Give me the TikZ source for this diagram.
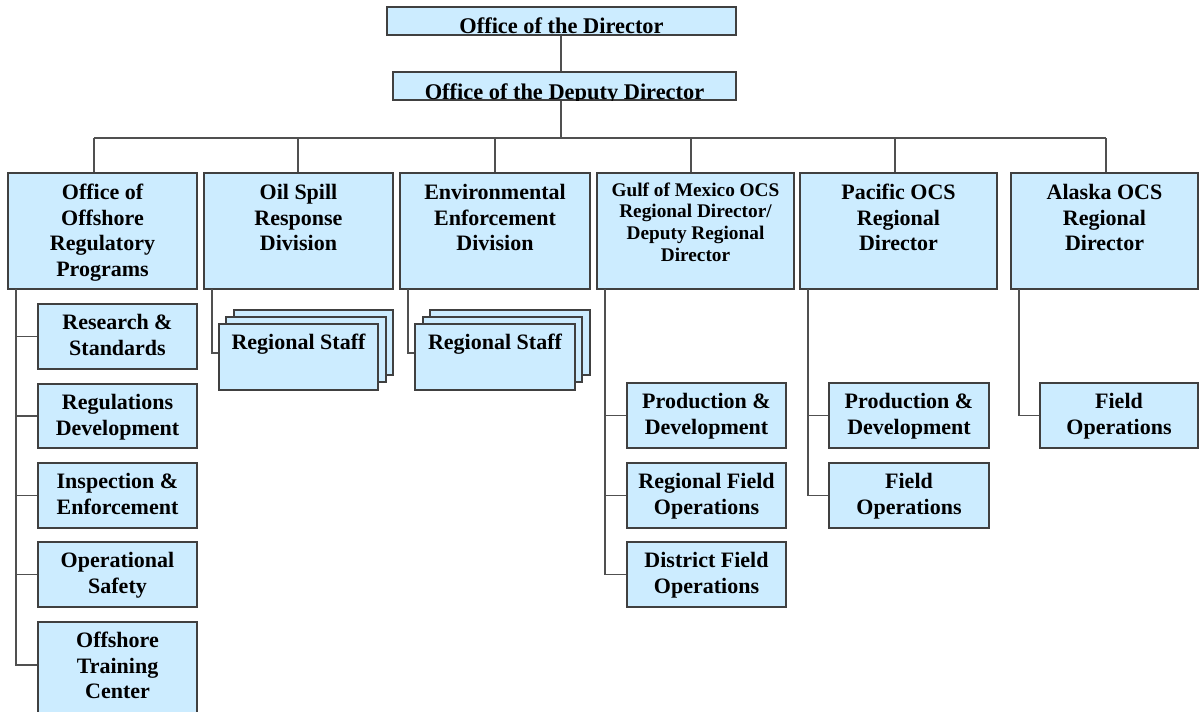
\documentclass[tikz,border=0pt]{standalone}
\usepackage{fontspec}
\setmainfont{Liberation Serif}
\usetikzlibrary{fit}
\definecolor{boxfill}{RGB}{204,236,255}
\definecolor{boxline}{RGB}{64,64,64}
\definecolor{conn}{RGB}{80,80,80}
\tikzset{
  box/.style={draw=boxline, line width=1.5pt, fill=boxfill, inner sep=0pt, rectangle},
  txt/.style={anchor=north, align=center, inner sep=0pt, text=black,
    font=\fontsize{22}{25.5}\selectfont\bfseries},
  txtsmall/.style={txt, font=\fontsize{19.3}{21.8}\selectfont\bfseries},
  link/.style={draw=conn, line width=1.9pt}
}
\begin{document}
\begin{tikzpicture}[x=1pt,y=-1pt]
\useasboundingbox (0,0) rectangle (1200,712);

% top
\node[box, fit={(387,7) (736,35)}] (dir) {};
\node[txt, font=\fontsize{22.4}{25}\selectfont\bfseries, yshift=-11pt] (dirt) at (dir.north) {Office of the Director};
\node[box, fit={(393,72) (736,100)}] (dep) {};
\begin{scope}
\clip (393,72) rectangle (736,100);
\node[txt, font=\fontsize{22.4}{25}\selectfont\bfseries, yshift=-12pt] (dept) at (dep.north) {Office of the Deputy Director};
\end{scope}

% bus
\coordinate (t1) at (94,138);
\coordinate (t2) at (298,138);
\coordinate (t3) at (495,138);
\coordinate (t4) at (691,138);
\coordinate (t5) at (895,138);
\coordinate (t6) at (1106,138);
\coordinate (tm) at (561,138);

% main row
\node[box, fit={(8,173) (197,289)}] (b1) {};
\node[box, fit={(204,173) (393,289)}] (b2) {};
\node[box, fit={(400,173) (590,289)}] (b3) {};
\node[box, fit={(597,173) (794,289)}] (b4) {};
\node[box, fit={(800,173) (997,289)}] (b5) {};
\node[box, fit={(1011,173) (1198,289)}] (b6) {};

\node[txt, yshift=-12pt] (b1t) at (b1.north) {Office of\\Offshore\\Regulatory\\Programs};
\node[txt, yshift=-12pt] (b2t) at (b2.north) {Oil Spill\\Response\\Division};
\node[txt, yshift=-12pt] (b3t) at (b3.north) {Environmental\\Enforcement\\Division};
\node[txtsmall, yshift=-10pt] (b4t) at (b4.north) {Gulf of Mexico OCS\\Regional Director/\\Deputy Regional\\Director};
\node[txt, yshift=-12pt] (b5t) at (b5.north) {Pacific OCS\\Regional\\Director};
\node[txt, yshift=-12pt] (b6t) at (b6.north) {Alaska OCS\\Regional\\Director};

\draw[link] (tm |- dir.south) -- (tm |- dep.north);
\draw[link] (tm |- dep.south) -- (tm);
\draw[link] (t1) -- (t6);
\draw[link] (t1) -- (t1 |- b1.north);
\draw[link] (t2) -- (t2 |- b2.north);
\draw[link] (t3) -- (t3 |- b3.north);
\draw[link] (t4) -- (t4 |- b4.north);
\draw[link] (t5) -- (t5 |- b5.north);
\draw[link] (t6) -- (t6 |- b6.north);

% column 1 children
\node[box, fit={(38,304) (197,369)}] (c11) {};
\node[box, fit={(38,384) (197,448)}] (c12) {};
\node[box, fit={(38,463) (197,528)}] (c13) {};
\node[box, fit={(38,542) (197,607)}] (c14) {};
\node[box, fit={(38,622) (197,714)}] (c15) {};
\node[txt, yshift=-11pt] at (c11.north) {Research \&\\Standards};
\node[txt, yshift=-11pt] at (c12.north) {Regulations\\Development};
\node[txt, yshift=-11pt] at (c13.north) {Inspection \&\\Enforcement};
\node[txt, yshift=-11pt] at (c14.north) {Operational\\Safety};
\node[txt, yshift=-11pt] at (c15.north) {Offshore\\Training\\Center};
\coordinate (s1) at (16,289);
\coordinate (e15) at (16,665);
\draw[link] (s1) -- (e15) -- (e15 -| c15.west);
\foreach \c in {c11,c12,c13,c14}{\draw[link] (s1 |- \c.west) -- (\c.west);}

% column 2 stack
\node[box, fit={(234,310) (393,375)}] (rs1c) {};
\node[box, fit={(226,317) (386,382)}] (rs1b) {};
\node[box, fit={(219,324) (378,390)}] (rs1a) {};
\node[txt, yshift=-11pt] at (rs1a.north) {Regional Staff};
\coordinate (s2) at (212,289);
\draw[link] (s2) |- ([yshift=4pt]rs1a.west);

% column 3 stack
\node[box, fit={(430,310) (590,375)}] (rs2c) {};
\node[box, fit={(423,317) (582,382)}] (rs2b) {};
\node[box, fit={(415,324) (575,390)}] (rs2a) {};
\node[txt, yshift=-11pt] at (rs2a.north) {Regional Staff};
\coordinate (s3) at (408,289);
\draw[link] (s3) |- ([yshift=4pt]rs2a.west);

% column 4 children
\node[box, fit={(627,383) (786,448)}] (c41) {};
\node[box, fit={(627,463) (786,528)}] (c42) {};
\node[box, fit={(627,542) (786,607)}] (c43) {};
\node[txt, yshift=-11pt] at (c41.north) {Production \&\\Development};
\node[txt, yshift=-11pt] at (c42.north) {Regional Field\\Operations};
\node[txt, yshift=-11pt] at (c43.north) {District Field\\Operations};
\coordinate (s4) at (605,289);
\draw[link] (s4) |- (c43.west);
\foreach \c in {c41,c42}{\draw[link] (s4 |- \c.west) -- (\c.west);}

% column 5 children
\node[box, fit={(829,383) (989,448)}] (c51) {};
\node[box, fit={(829,463) (989,528)}] (c52) {};
\node[txt, yshift=-11pt] at (c51.north) {Production \&\\Development};
\node[txt, yshift=-11pt] at (c52.north) {Field\\Operations};
\coordinate (s5) at (808,289);
\draw[link] (s5) |- (c52.west);
\draw[link] (s5 |- c51.west) -- (c51.west);

% column 6 child
\node[box, fit={(1040,383) (1198,448)}] (c61) {};
\node[txt, yshift=-11pt] at (c61.north) {Field\\Operations};
\coordinate (s6) at (1019,289);
\draw[link] (s6) |- (c61.west);
\end{tikzpicture}
\end{document}
